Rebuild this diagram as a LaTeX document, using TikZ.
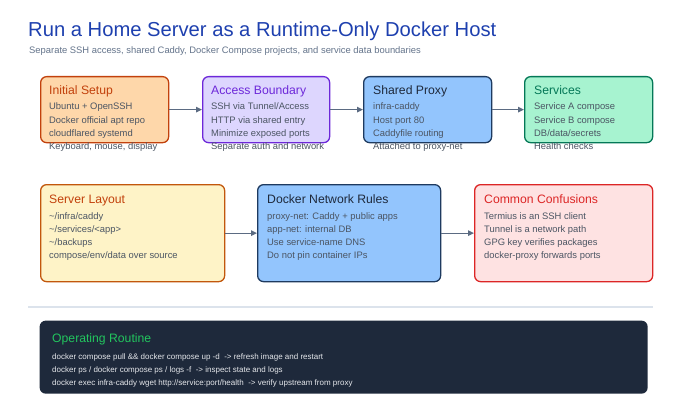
\documentclass[tikz,border=0pt]{standalone}
\usepackage{fontspec}
\setmainfont{Liberation Sans}
\usetikzlibrary{arrows.meta,calc}
\definecolor{ttlblue}{HTML}{1E40AF}
\definecolor{subgray}{HTML}{64748B}
\definecolor{bodygray}{HTML}{4B5563}
\definecolor{arrowc}{HTML}{5B6B82}
\definecolor{orfill}{HTML}{FED7AA}\definecolor{ordraw}{HTML}{C2410C}
\definecolor{vifill}{HTML}{DDD6FE}\definecolor{vidraw}{HTML}{6D28D9}
\definecolor{blfill}{HTML}{93C5FD}\definecolor{bldraw}{HTML}{1E3A5F}\definecolor{bltext}{HTML}{1E293B}
\definecolor{grfill}{HTML}{A7F3D0}\definecolor{grdraw}{HTML}{047857}
\definecolor{amfill}{HTML}{FEF3C7}\definecolor{amdraw}{HTML}{C2570C}
\definecolor{rdfill}{HTML}{FEE2E2}\definecolor{rddraw}{HTML}{DC2626}
\definecolor{darkbg}{HTML}{1E293B}
\definecolor{greent}{HTML}{22C55E}
\definecolor{sepc}{HTML}{DCE3EC}
\definecolor{lightt}{HTML}{E5E7EB}
\tikzset{
  box/.style={draw, line width=1.3pt, rounded corners=6pt, anchor=north west, inner sep=0pt},
  ttl/.style={anchor=base west, inner sep=0pt, font=\fontsize{12.2}{14}\selectfont},
  bdy/.style={anchor=base west, inner sep=0pt, text=bodygray, font=\fontsize{9.4}{12}\selectfont},
  cmd/.style={anchor=base west, inner sep=0pt, text=lightt, font=\fontsize{8}{10}\selectfont},
  arr/.style={draw=arrowc, line width=1.2pt, -{Triangle[length=6pt,width=5.5pt]}},
}
\begin{document}
\begin{tikzpicture}[x=1pt,y=-1pt]
\useasboundingbox[fill=white] (0,0) rectangle (680,412);
% title
\node[anchor=base west, inner sep=0pt, text=ttlblue, font=\fontsize{20.2}{24}\selectfont] (title) at (28,37) {Run a Home Server as a Runtime-Only Docker Host};
\node[anchor=base west, inner sep=0pt, text=subgray, font=\fontsize{9.4}{11}\selectfont] (sub) at (29,54) {Separate SSH access, shared Caddy, Docker Compose projects, and service data boundaries};
% row 1
\node[box, fill=orfill, draw=ordraw, minimum width=128pt, minimum height=66pt] (b1) at (40,76) {};
\node[box, fill=vifill, draw=vidraw, minimum width=127pt, minimum height=66pt] (b2) at (202,76) {};
\node[box, fill=blfill, draw=bldraw, minimum width=128pt, minimum height=66pt] (b3) at (363,76) {};
\node[box, fill=grfill, draw=grdraw, minimum width=128pt, minimum height=66pt] (b4) at (524,76) {};
% row 2
\node[box, fill=amfill, draw=amdraw, minimum width=184pt, minimum height=97pt] (c1) at (40,184) {};
\node[box, fill=blfill, draw=bldraw, minimum width=183pt, minimum height=97pt] (c2) at (257,184) {};
\node[box, fill=rdfill, draw=rddraw, minimum width=178pt, minimum height=97pt] (c3) at (474,184) {};
% texts row 1
\node[ttl, text=ordraw] (b1t) at ([shift={(9,18)}]b1.north west) {Initial Setup};
\foreach \t [count=\i from 0] in {Ubuntu + OpenSSH, Docker official apt repo, cloudflared systemd, {Keyboard, mouse, display}}
  \node[bdy] (b1l\i) at ([shift={(9,34+13*\i)}]b1.north west) {\t};
\node[ttl, text=vidraw] (b2t) at ([shift={(9,18)}]b2.north west) {Access Boundary};
\foreach \t [count=\i from 0] in {SSH via Tunnel/Access, HTTP via shared entry, Minimize exposed ports, Separate auth and network}
  \node[bdy] (b2l\i) at ([shift={(9,34+13*\i)}]b2.north west) {\t};
\node[ttl, text=bltext] (b3t) at ([shift={(10,18)}]b3.north west) {Shared Proxy};
\foreach \t [count=\i from 0] in {infra-caddy, Host port 80, Caddyfile routing, Attached to proxy-net}
  \node[bdy] (b3l\i) at ([shift={(10,34+13*\i)}]b3.north west) {\t};
\node[ttl, text=grdraw] (b4t) at ([shift={(10,18)}]b4.north west) {Services};
\foreach \t [count=\i from 0] in {Service A compose, Service B compose, DB/data/secrets, Health checks}
  \node[bdy] (b4l\i) at ([shift={(10,34+13*\i)}]b4.north west) {\t};
% texts row 2
\node[ttl, text=ordraw] (c1t) at ([shift={(9,19)}]c1.north west) {Server Layout};
\foreach \t [count=\i from 0] in {\textasciitilde/infra/caddy, \textasciitilde/services/<app>, \textasciitilde/backups, compose/env/data over source}
  \node[bdy] (c1l\i) at ([shift={(9,35+13*\i)}]c1.north west) {\t};
\node[ttl, text=bltext] (c2t) at ([shift={(10,19)}]c2.north west) {Docker Network Rules};
\foreach \t [count=\i from 0] in {proxy-net: Caddy + public apps, app-net: internal DB, Use service-name DNS, Do not pin container IPs}
  \node[bdy] (c2l\i) at ([shift={(10,35+13*\i)}]c2.north west) {\t};
\node[ttl, text=rddraw] (c3t) at ([shift={(10,19)}]c3.north west) {Common Confusions};
\foreach \t [count=\i from 0] in {Termius is an SSH client, Tunnel is a network path, GPG key verifies packages, docker-proxy forwards ports}
  \node[bdy] (c3l\i) at ([shift={(10,35+13*\i)}]c3.north west) {\t};
% arrows
\draw[arr] (b1.east) -- (b2.west);
\draw[arr] (b2.east) -- (b3.west);
\draw[arr] (b3.east) -- (b4.west);
\draw[arr] (c1.east) -- (c2.west);
\draw[arr] (c2.east) -- (c3.west);
% separator
\coordinate (s1) at (28,307);
\coordinate (s2) at (653,307);
\draw[sepc, line width=1.5pt] (s1) -- (s2);
% dark box
\node[box, draw=none, fill=darkbg, minimum width=608pt, minimum height=73pt] (d) at (39,320) {};
\node[ttl, text=greent] (dt) at ([shift={(13,22)}]d.north west) {Operating Routine};
\node[cmd] (dl0) at ([shift={(13,39)}]d.north west) {docker compose pull \&\& docker compose up -d \ -> refresh image and restart};
\node[cmd] (dl1) at ([shift={(13,52)}]d.north west) {docker ps / docker compose ps / logs -f \ -> inspect state and logs};
\node[cmd] (dl2) at ([shift={(13,65)}]d.north west) {docker exec infra-caddy wget http://service:port/health \ -> verify upstream from proxy};
\end{tikzpicture}
\end{document}
